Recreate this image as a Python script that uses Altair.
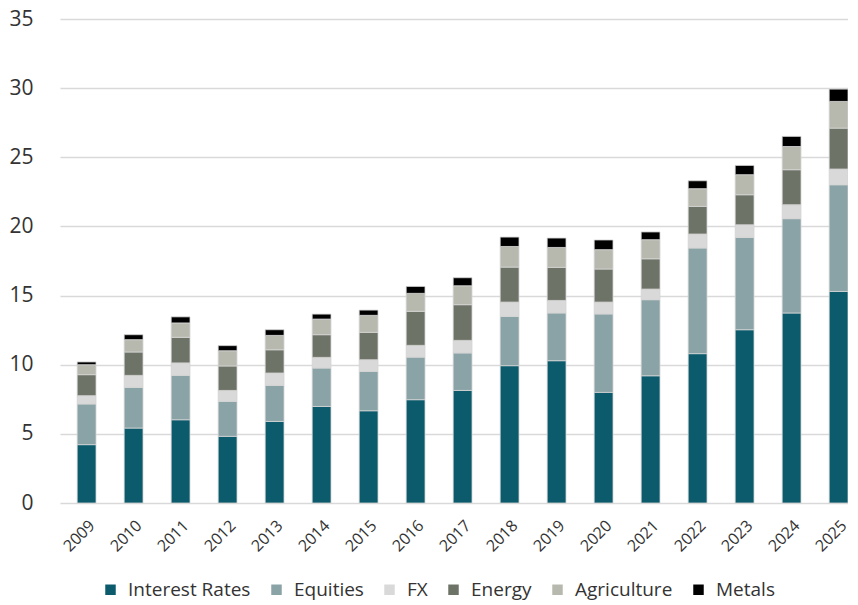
import altair as alt
import pandas as pd

years = [str(y) for y in range(2009, 2026)]
categories = ["Interest Rates", "Equities", "FX", "Energy", "Agriculture", "Metals"]
colors = ["#0b5b6d", "#8aa3a7", "#d9d9d9", "#6e7367", "#b8b9ae", "#000000"]

interest_rates = [4.22, 5.42, 6.02, 4.82, 5.90, 6.98, 6.67, 7.47, 8.14, 9.93, 10.29, 8.00, 9.20, 10.80, 12.53, 13.74, 15.30]
equities = [2.94, 2.94, 3.21, 2.53, 2.60, 2.78, 2.85, 3.08, 2.71, 3.56, 3.45, 5.67, 5.50, 7.64, 6.67, 6.82, 7.71]
fx = [0.60, 0.87, 0.90, 0.79, 0.90, 0.77, 0.84, 0.85, 0.91, 1.04, 0.91, 0.86, 0.77, 1.01, 0.92, 1.01, 1.14]
energy = [1.52, 1.69, 1.85, 1.77, 1.68, 1.64, 1.98, 2.46, 2.58, 2.53, 2.39, 2.39, 2.19, 2.00, 2.17, 2.53, 2.96]
agriculture = [0.72, 0.89, 1.04, 1.10, 1.04, 1.13, 1.23, 1.30, 1.37, 1.49, 1.44, 1.40, 1.38, 1.28, 1.45, 1.68, 1.93]
metals = [0.20, 0.36, 0.44, 0.37, 0.41, 0.36, 0.38, 0.50, 0.58, 0.68, 0.68, 0.70, 0.56, 0.57, 0.67, 0.73, 0.89]

series = [interest_rates, equities, fx, energy, agriculture, metals]
rows = []
for ci, (cat, vals) in enumerate(zip(categories, series)):
    for y, v in zip(years, vals):
        rows.append({"year": y, "category": cat, "value": v, "order": ci})
df = pd.DataFrame(rows)

chart = (
    alt.Chart(df)
    .mark_bar(stroke="#d4d4d4", strokeWidth=0.8)
    .encode(
        x=alt.X(
            "year:N",
            title=None,
            sort=years,
            scale=alt.Scale(paddingInner=0.6, paddingOuter=0.183, align=1.0),
            axis=alt.Axis(
                labelAngle=-45,
                labelFontSize=16,
                labelColor="#333333",
                labelFont="Open Sans",
                ticks=False,
                domain=False,
                labelPadding=14,
            ),
        ),
        y=alt.Y(
            "value:Q",
            title=None,
            stack="zero",
            scale=alt.Scale(domain=[0, 35], nice=False),
            axis=alt.Axis(
                values=[0, 5, 10, 15, 20, 25, 30, 35],
                labelFontSize=21,
                labelColor="#333333",
                labelFont="Open Sans",
                ticks=False,
                domain=False,
                labelPadding=27,
                gridColor="#d9d9d9",
                gridWidth=1.5,
            ),
        ),
        color=alt.Color(
            "category:N",
            scale=alt.Scale(domain=categories, range=colors),
            legend=alt.Legend(
                title=None,
                orient="none",
                direction="horizontal",
                legendX=41,
                legendY=561,
                symbolType="square",
                symbolSize=110,
                symbolStrokeWidth=0,
                labelFontSize=19,
                labelFont="Open Sans",
                labelColor="#333333",
                labelOffset=8,
                columnPadding=16,
                labelLimit=300,
            ),
        ),
        order=alt.Order("order:Q", sort="ascending"),
    )
    .properties(
        width=788,
        height=484,
        autosize=alt.AutoSizeParams(type="none"),
        padding={"left": 52, "top": 11, "right": 0, "bottom": 97},
    )
    .configure_view(stroke=None)
)

chart.save("out.html", embed_options={"renderer": "svg", "actions": False})
